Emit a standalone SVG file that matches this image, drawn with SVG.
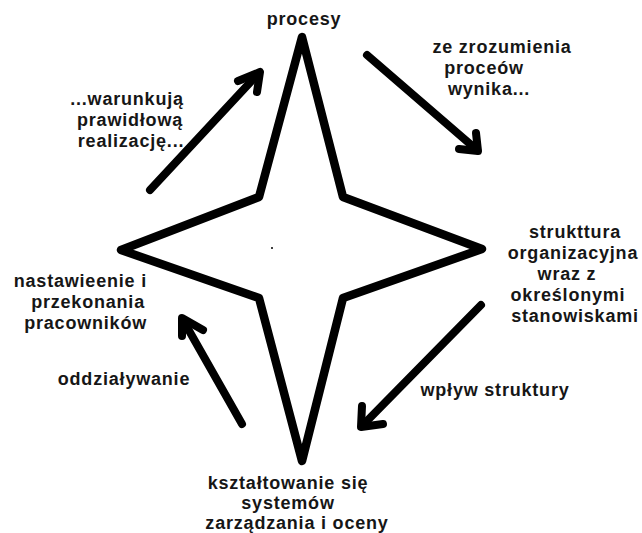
<svg xmlns="http://www.w3.org/2000/svg" width="642" height="533" viewBox="0 0 642 533">
  <style>
    .lbl { font-family: "Liberation Sans", Arial, sans-serif; font-weight: bold; font-size: 18px; letter-spacing: 0.8px; fill: #161616; text-anchor: middle; }
    .end { text-anchor: end; }
    .star { fill: #ffffff; stroke: #000000; stroke-width: 8.5; stroke-linejoin: round; }
    .arr { fill: none; stroke: #000000; stroke-width: 8; stroke-linecap: round; stroke-linejoin: round; }
  </style>
  <rect width="642" height="533" fill="#ffffff"/>

  <!-- four-pointed star in the middle -->
  <g id="star">
    <polygon class="star" points="302,37 259,197 121,250 259,298 302,461 343,298 482,249 343,197"/>
    <circle cx="272" cy="248" r="1" fill="#000000"/>
  </g>

  <g id="procesy">
    <text class="lbl" x="304" y="25">procesy</text>
  </g>

  <g id="struktura">
    <text class="lbl" x="575" y="238">strukttura</text>
    <text class="lbl" x="573" y="259">organizacyjna</text>
    <text class="lbl" x="567" y="280">wraz z</text>
    <text class="lbl" x="568" y="301">określonymi</text>
    <text class="lbl" x="575" y="322">stanowiskami</text>
  </g>

  <g id="systemy">
    <text class="lbl" x="288" y="489">kształtowanie się</text>
    <text class="lbl" x="288" y="509">systemów</text>
    <text class="lbl" x="297" y="529">zarządzania i oceny</text>
  </g>

  <g id="nastawienie">
    <text class="lbl end" x="147" y="287">nastawieenie i</text>
    <text class="lbl end" x="145" y="308">przekonania</text>
    <text class="lbl end" x="147" y="329">pracowników</text>
  </g>

  <!-- connectors with their labels -->
  <g id="connectors">
    <g id="procesy-to-struktura">
      <line class="arr" x1="367" y1="55" x2="477" y2="150"/>
      <polyline class="arr" points="459,149 478,151 476,133"/>
      <text class="lbl" x="502" y="53">ze zrozumienia</text>
      <text class="lbl" x="484" y="74">proceów</text>
      <text class="lbl" x="489" y="95">wynika...</text>
    </g>
    <g id="struktura-to-systemy">
      <line class="arr" x1="481" y1="305" x2="362" y2="426"/>
      <polyline class="arr" points="362,406 361,427 383,424"/>
      <text class="lbl" x="495" y="396">wpływ struktury</text>
    </g>
    <g id="systemy-to-nastawienie">
      <line class="arr" x1="242" y1="424" x2="183" y2="320"/>
      <polyline class="arr" points="182,336 182,318 203,330"/>
      <text class="lbl" x="124" y="385">oddziaływanie</text>
    </g>
    <g id="nastawienie-to-procesy">
      <line class="arr" x1="150" y1="190" x2="258" y2="74"/>
      <polyline class="arr" points="238,81 260,72 257,92"/>
      <text class="lbl" x="127" y="105">...warunkują</text>
      <text class="lbl" x="130" y="126">prawidłową</text>
      <text class="lbl" x="131" y="147">realizację...</text>
    </g>
  </g>
</svg>
